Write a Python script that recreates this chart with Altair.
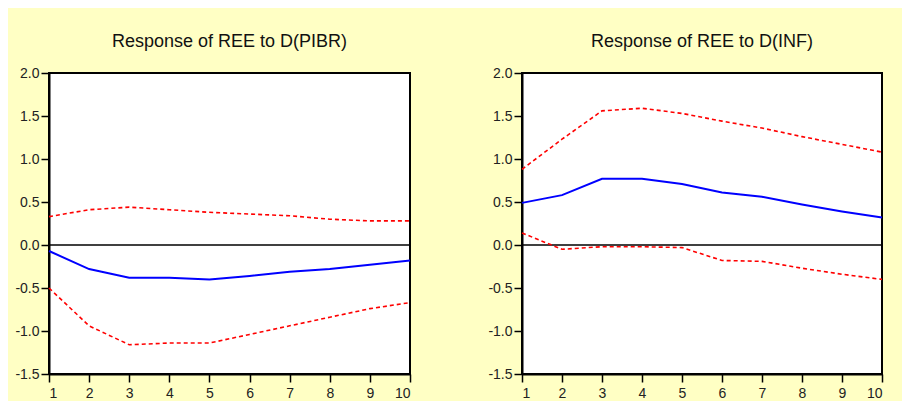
import altair as alt
import pandas as pd

steps = [1, 2, 3, 4, 5, 6, 7, 8, 9, 10]

pibr_resp = [-0.07, -0.28, -0.38, -0.38, -0.40, -0.36, -0.31, -0.28, -0.23, -0.18]
pibr_upper = [0.33, 0.41, 0.44, 0.41, 0.38, 0.36, 0.34, 0.30, 0.28, 0.28]
pibr_lower = [-0.50, -0.94, -1.16, -1.14, -1.14, -1.04, -0.94, -0.84, -0.74, -0.67]

inf_resp = [0.49, 0.58, 0.77, 0.77, 0.71, 0.61, 0.56, 0.47, 0.39, 0.32]
inf_upper = [0.88, 1.23, 1.56, 1.59, 1.53, 1.44, 1.36, 1.26, 1.17, 1.08]
inf_lower = [0.14, -0.05, -0.02, -0.02, -0.03, -0.18, -0.19, -0.27, -0.34, -0.40]

titles = ["Response of REE to D(PIBR)", "Response of REE to D(INF)"]
y_ticks = [-1.5, -1.0, -0.5, 0.0, 0.5, 1.0, 1.5, 2.0]

FONT = "Liberation Sans"


def panel(title, resp, upper, lower, width):
    df = pd.DataFrame({"step": steps, "resp": resp, "upper": upper, "lower": lower})
    x = alt.X("step:Q", scale=alt.Scale(domain=[1, 10], nice=False, zero=False),
              axis=alt.Axis(values=steps, format="d", title=None))
    yscale = alt.Scale(domain=[-1.5, 2.0], nice=False, zero=False)
    yaxis = alt.Axis(values=y_ticks, title=None,
                     labelExpr="(datum.value < 0 ? '-' : '') + format(abs(datum.value), '.1f')")
    base = alt.Chart(df)
    zero = alt.Chart(pd.DataFrame({"z": [0.0]})).mark_rule(color="black", strokeWidth=1.5).encode(
        y=alt.Y("z:Q", scale=yscale, axis=yaxis))
    up = base.mark_line(color="#FF0000", strokeWidth=1.6, strokeDash=[4, 3]).encode(
        x=x, y=alt.Y("upper:Q", scale=yscale, axis=yaxis))
    lo = base.mark_line(color="#FF0000", strokeWidth=1.6, strokeDash=[4, 3]).encode(
        x=x, y=alt.Y("lower:Q", scale=yscale, axis=yaxis))
    mid = base.mark_line(color="#0000FF", strokeWidth=2).encode(
        x=x, y=alt.Y("resp:Q", scale=yscale, axis=yaxis))
    return alt.layer(zero, up, lo, mid).properties(
        width=width, height=301,
        title=alt.TitleParams(title, fontSize=18, font=FONT, fontWeight="normal",
                              color="#111111", anchor="middle", frame="group",
                              baseline="alphabetic", offset=1),
    )


p1 = panel(titles[0], pibr_resp, pibr_upper, pibr_lower, 361)
p2 = panel(titles[1], inf_resp, inf_upper, inf_lower, 360)

chart = alt.hconcat(p1, p2, spacing=66).properties(
    background="#FFFFC4",
    padding={"left": 0, "top": 24, "right": 15, "bottom": 0},
).configure_view(
    stroke="black", strokeWidth=2, fill="white"
).configure_axis(
    grid=False, domainColor="black", domainWidth=2, tickColor="black", tickWidth=1.5,
    tickSize=8, labelFont=FONT, labelFontSize=14, labelColor="#222222",
).configure_axisY(
    labelPadding=2, minExtent=40, maxExtent=40,
).configure_axisX(
    labelPadding=4,
)

chart.save("out.html", embed_options={"renderer": "svg", "actions": False})
